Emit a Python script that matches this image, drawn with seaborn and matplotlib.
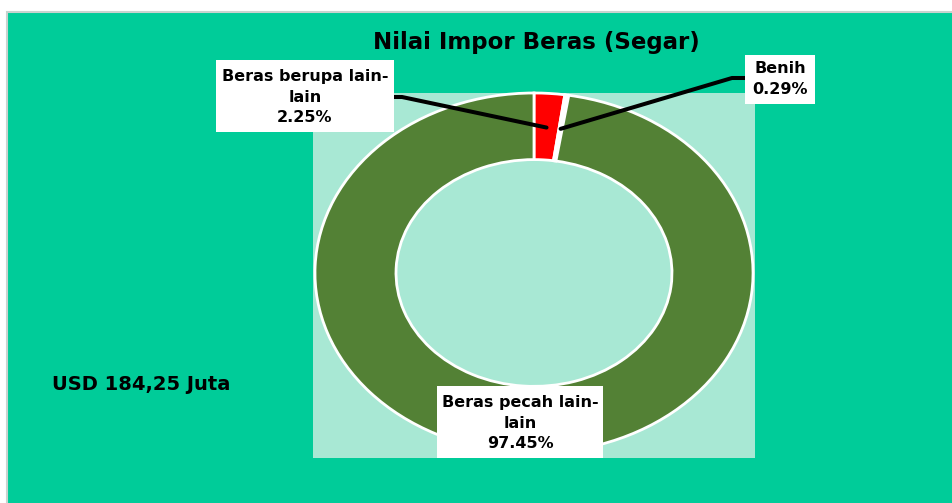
import matplotlib
matplotlib.use("Agg")
import matplotlib.pyplot as plt
import seaborn as sns
import numpy as np
from matplotlib.patches import Rectangle
from matplotlib.lines import Line2D

# ---- data ----
categories = ["Beras berupa lain-lain", "Benih", "Beras pecah lain-lain"]
shares = [2.25, 0.29, 97.45]
label_texts = ["Beras berupa lain-\nlain\n2.25%", "Benih\n0.29%", "Beras pecah lain-\nlain\n97.45%"]
title_text = "Nilai Impor Beras (Segar)"
total_text = "USD 184,25 Juta"

colors = ["#FF0000", "#FFFFFF", "#538135"]

sns.set_theme(style="white")
plt.rcParams["font.family"] = ["DejaVu Sans"]

W, H = 952, 503
fig = plt.figure(figsize=(W / 100, H / 100), dpi=100, facecolor="white")


def fx(x):
    return x / W


def fy(y):
    return 1 - y / H


# chart background panel
fig.patches.append(Rectangle((fx(7), -0.01), 1.01 - fx(7), fy(12) + 0.01,
                             transform=fig.transFigure, facecolor="#00CC99",
                             edgecolor="#C9D3CF", linewidth=1.5, zorder=-1))

# plot area
ax = fig.add_axes([fx(313), fy(458), (755 - 313) / W, (458 - 93) / H])
ax.set_zorder(1)
wedges, _ = ax.pie(shares, colors=colors, startangle=90, counterclock=False, radius=1,
                   wedgeprops=dict(width=0.37, edgecolor="white", linewidth=2.0))
ax.set_aspect("auto")
ax.set_xlim(-1.009, 1.009)
ax.set_ylim(-1.028, 1.0)
ax.set_frame_on(True)
ax.set_facecolor("#A8E8D4")
for s in ax.spines.values():
    s.set_visible(False)
ax.set_xticks([])
ax.set_yticks([])

# anchors of leader lines from wedge geometry
total = sum(shares)
cum = np.cumsum([0] + shares[:-1])
mid_angles = [np.deg2rad(90 - 360 * (c + v / 2) / total) for c, v in zip(cum, shares)]
r_anchor = 0.81
to_fig = ax.transData + fig.transFigure.inverted()
anchors = [to_fig.transform((r_anchor * np.cos(a), r_anchor * np.sin(a))) for a in mid_angles]

# leader lines
lw = 2.9
l1 = Line2D([fx(393), fx(402), anchors[0][0]], [fy(97), fy(97), anchors[0][1]],
            transform=fig.transFigure, color="black", linewidth=lw, zorder=5)
l2 = Line2D([fx(745), fx(732), anchors[1][0]], [fy(78), fy(78), anchors[1][1]],
            transform=fig.transFigure, color="black", linewidth=lw, zorder=5)
fig.lines.extend([l1, l2])

# label boxes
boxes = [(216, 60, 394, 132), (745, 55, 815, 104), (437, 386, 603, 458)]
centers = [(305, 97), (780, 79), (520, 423)]
for (x0, y0, x1, y1), (cx, cy), t in zip(boxes, centers, label_texts):
    fig.patches.append(Rectangle((fx(x0), fy(y1)), (x1 - x0) / W, (y1 - y0) / H,
                                 transform=fig.transFigure, facecolor="white",
                                 edgecolor="none", zorder=6))
    fig.text(fx(cx), fy(cy), t, ha="center", va="center", fontsize=11.5,
             fontweight="bold", color="black", linespacing=1.45, zorder=7)

fig.text(fx(536), fy(42), title_text, ha="center", va="center", fontsize=16.5,
         fontweight="bold", color="black", zorder=7)
fig.text(fx(52), fy(385), total_text, ha="left", va="center", fontsize=14,
         fontweight="bold", color="black", zorder=7)

fig.savefig("out.png", dpi=100, facecolor="white")
